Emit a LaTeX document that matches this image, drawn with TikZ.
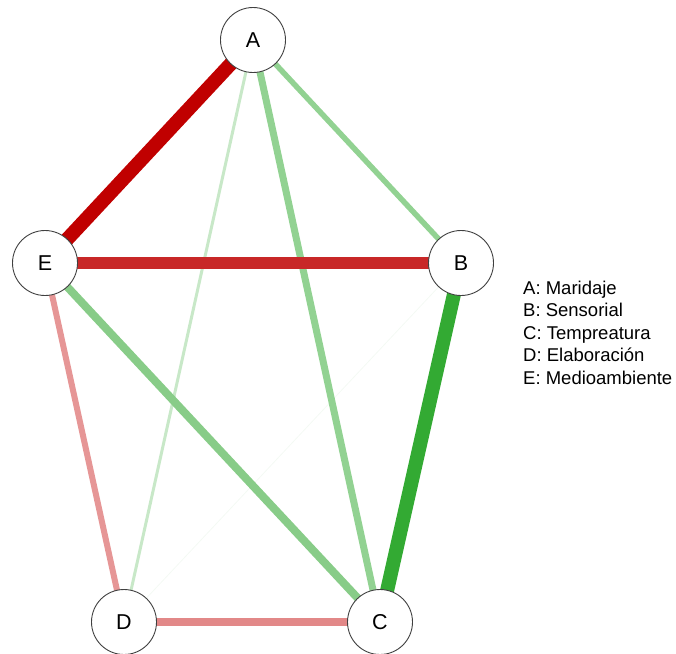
\documentclass[tikz,border=0pt]{standalone}
\usepackage{fontspec}
\setmainfont{Liberation Sans}
\begin{document}
\begin{tikzpicture}[x=1pt,y=-1pt,
  vtx/.style={circle,draw=black!75,line width=0.9pt,fill=white,minimum size=65pt,inner sep=0pt,font=\fontsize{21.5}{22}\selectfont},
  lg/.style={anchor=base west,font=\fontsize{18.5}{19}\selectfont,inner sep=0pt}]
\useasboundingbox (0,0) rectangle (676,653);
\definecolor{dred}{RGB}{192,0,0}
\definecolor{mred}{RGB}{200,40,40}
\definecolor{pred}{RGB}{226,136,136}
\definecolor{pred2}{RGB}{230,150,150}
\definecolor{dgrn}{RGB}{51,170,51}
\definecolor{lgrn}{RGB}{146,210,146}
\definecolor{lgrn2}{RGB}{136,204,136}
\definecolor{vlgrn}{RGB}{200,232,200}
\definecolor{faint}{RGB}{244,249,244}
\coordinate (pA) at (253,40);
\coordinate (pB) at (461,263);
\coordinate (pC) at (380,622);
\coordinate (pD) at (124,622);
\coordinate (pE) at (45,263);
\draw[faint,line width=0.8pt] (pB) -- (pD);
\draw[vlgrn,line width=3pt] (pA) -- (pD);
\draw[lgrn,line width=5.5pt] (pA) -- (pB);
\draw[lgrn,line width=7pt] (pA) -- (pC);
\draw[lgrn2,line width=8pt] (pE) -- (pC);
\draw[pred2,line width=6pt] (pE) -- (pD);
\draw[pred,line width=8pt] (pD) -- (pC);
\draw[dgrn,line width=14pt] (pB) -- (pC);
\draw[mred,line width=12.5pt] (pE) -- (pB);
\draw[dred,line width=14pt] (pA) -- (pE);
\node[vtx] (A) at (pA) {A};
\node[vtx] (B) at (pB) {B};
\node[vtx] (C) at (pC) {C};
\node[vtx] (D) at (pD) {D};
\node[vtx] (E) at (pE) {E};
\node[lg] (l1) at (523,294) {A: Maridaje};
\node[lg] (l2) at (523,316.5) {B: Sensorial};
\node[lg] (l3) at (523,339) {C: Tempreatura};
\node[lg] (l4) at (523,361.5) {D: Elaboración};
\node[lg] (l5) at (523,384) {E: Medioambiente};
\end{tikzpicture}
\end{document}
